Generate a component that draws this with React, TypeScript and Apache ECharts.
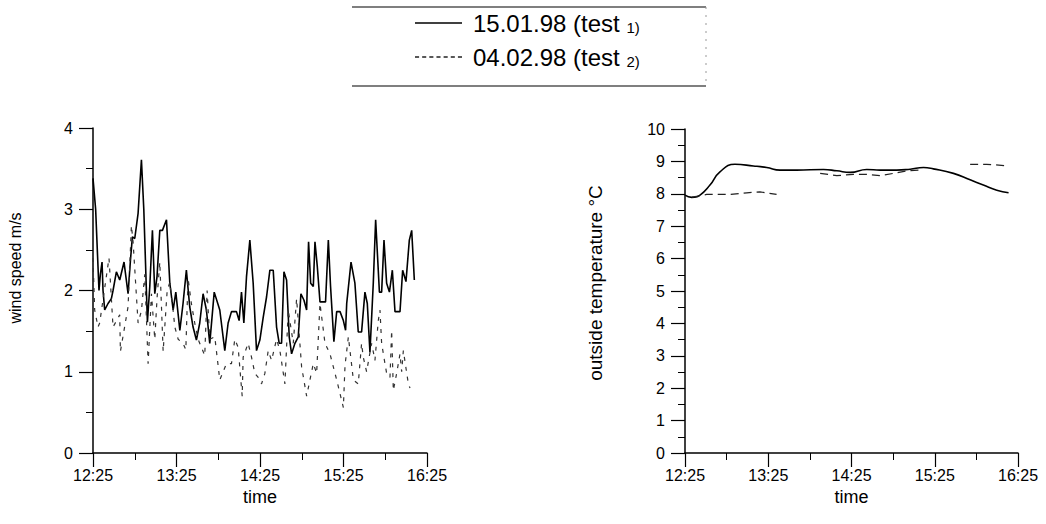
import React, { useEffect, useRef } from "react";
import * as echarts from "echarts";

const timeTicks = ["12:25", "13:25", "14:25", "15:25", "16:25"];
const seriesNames = ["15.01.98 (test 1)", "04.02.98 (test 2)"];
const leftAxisName = "wind speed m/s";
const rightAxisName = "outside temperature °C";

// [minutes after 12:25, value]
const test1Wind: [number, number][] = [
  [0, 3.38], [1.9, 3.0], [4.3, 2.0], [5.3, 2.2], [6.5, 2.35], [7.2, 2.0], [8.4, 1.76], [10.8, 1.84],
  [13.2, 1.9], [14.4, 2.0], [16.8, 2.23], [19.2, 2.13], [22.3, 2.35], [25.2, 1.96], [26.9, 2.37],
  [28.3, 2.66], [30.0, 2.64], [32.4, 2.95], [34.8, 3.61], [36.5, 3.0], [39.1, 1.61], [40.8, 2.05],
  [42.7, 2.74], [44.4, 1.96], [46.0, 2.17], [48.0, 2.74], [49.9, 2.74], [52.8, 2.87], [55.2, 2.09],
  [57.6, 1.76], [59.5, 1.98], [62.4, 1.51], [64.7, 1.84], [67.1, 2.25], [69.5, 1.8], [71.9, 1.55],
  [74.3, 1.39], [76.7, 1.6], [79.1, 1.96], [81.5, 1.76], [83.9, 1.35], [87.1, 1.98], [91.1, 1.76],
  [94.7, 1.26], [97.1, 1.6], [99.5, 1.74], [103.1, 1.74], [105.0, 1.63], [106.7, 1.98], [108.4, 1.6],
  [110.3, 2.17], [112.7, 2.62], [115.1, 2.09], [117.5, 1.26], [119.9, 1.39], [122.3, 1.67],
  [124.7, 1.92], [127.1, 2.25], [129.5, 2.25], [131.9, 1.55], [133.8, 1.35], [135.5, 1.35],
  [137.2, 2.23], [139.1, 2.13], [141.0, 1.43], [142.7, 1.22], [145.1, 1.35], [147.5, 1.43],
  [149.4, 1.96], [151.6, 1.88], [153.5, 1.76], [154.9, 2.6], [156.4, 2.09], [158.3, 2.05],
  [159.5, 2.6], [161.2, 2.29], [163.1, 1.86], [165.5, 1.86], [167.1, 1.86], [169.1, 2.62],
  [170.7, 2.05], [173.1, 1.37], [175.1, 1.74], [177.5, 1.74], [179.9, 1.63], [181.5, 1.51],
  [182.3, 1.84], [185.4, 2.35], [188.2, 2.09], [190.6, 1.49], [193.0, 1.49], [195.4, 1.98],
  [197.1, 1.84], [199.0, 1.24], [201.4, 2.09], [203.1, 2.87], [205.8, 1.98], [207.4, 1.98],
  [209.1, 2.62], [211.0, 2.09], [213.0, 1.98], [215.1, 2.25], [217.0, 1.74], [220.6, 1.74],
  [222.5, 2.25], [224.9, 2.11], [227.3, 2.62], [229.0, 2.74], [230.9, 2.13],
];

const test2Wind: [number, number][] = [
  [0, 2.4], [1.2, 1.76], [3.6, 1.55], [4.8, 1.6], [11.5, 2.4], [14.4, 1.55], [19.2, 1.7], [19.7, 1.25],
  [25.2, 1.8], [27.6, 2.8], [28.8, 2.6], [32.4, 1.6], [34.8, 1.75], [37.2, 2.2], [39.6, 1.1], [42, 1.96],
  [44.4, 1.4], [46, 1.9], [48, 2.35], [50.4, 1.25], [53.3, 2.0], [55.2, 2.1], [57.6, 1.75], [58.8, 1.55],
  [61.2, 1.4], [64.7, 1.35], [66.7, 1.27], [68.3, 2.15], [70.7, 1.84], [73.1, 1.6], [75.5, 1.4],
  [77.9, 1.3], [80.3, 1.2], [82, 2.0], [83.9, 1.4], [87.5, 1.43], [91.1, 0.9], [95.9, 1.1], [99.5, 1.1],
  [101.9, 1.4], [104.3, 1.3], [106.7, 0.8], [107.2, 0.7], [107.9, 1.18], [111.5, 1.35], [113.9, 1.18],
  [116.3, 0.98], [118.7, 0.93], [121.1, 0.85], [123.5, 0.98], [125.9, 1.26], [128.3, 1.14],
  [131.9, 1.4], [134.3, 1.26], [137.9, 0.85], [140.3, 1.76], [143.9, 1.35], [146.3, 1.9],
  [149.9, 1.06], [153.5, 0.7], [158.3, 1.1], [160.7, 0.98], [163.1, 1.84], [166.7, 1.35],
  [170.3, 1.22], [175.1, 0.9], [179.9, 0.56], [181.1, 1.08], [183.5, 1.43], [187.1, 0.9],
  [190.6, 0.85], [193, 1.35], [194.2, 1.18], [196.6, 1.0], [200.2, 1.35], [202.6, 1.14], [205, 1.63],
  [206.2, 1.76], [207.4, 1.35], [209.8, 1.1], [211, 0.98], [213.4, 0.93], [214.6, 1.51], [215.8, 0.77],
  [218.2, 0.98], [220.6, 1.22], [221.8, 1.0], [223, 1.26], [226.6, 0.85], [227.8, 0.8],
];

const test1Temp: [number, number][] = [
  [0, 7.96], [4.8, 7.89], [10.8, 7.96], [18, 8.27], [25.2, 8.68], [36, 8.91], [49.3, 8.86],
  [58.9, 8.81], [68.5, 8.73], [80.5, 8.73], [99.8, 8.75], [109.4, 8.71], [119, 8.66], [131, 8.75],
  [140.6, 8.73], [152.6, 8.73], [162.3, 8.76], [171.9, 8.81], [179, 8.77], [193.5, 8.63],
  [205.5, 8.43], [215, 8.27], [224.7, 8.11], [233.2, 8.03],
];

const test2TempA: [number, number][] = [
  [5, 7.9], [12, 7.95], [15.6, 7.98], [32.5, 7.98], [44.5, 8.03], [54, 8.06], [66, 7.98],
];
const test2TempB: [number, number][] = [
  [97.4, 8.63], [109.4, 8.56], [121.4, 8.6], [131, 8.6], [140.6, 8.56], [150.2, 8.63], [160, 8.71], [168.3, 8.73],
];
const test2TempC: [number, number][] = [
  [205.5, 8.91], [217.5, 8.91], [230.8, 8.87],
];

const FONT = "Liberation Sans, Arial, sans-serif";

const solidIcon = "path://M0,0H47V1.6H0Z";
const dashedIcon =
  "path://M0,0H4V1.4H0Z M7,0H11V1.4H7Z M14,0H18V1.4H14Z M21,0H25V1.4H21Z M28,0H32V1.4H28Z M35,0H39V1.4H35Z M42,0H46V1.4H42Z";

function xAxisFor(gridIndex: number) {
  return {
    type: "value",
    gridIndex,
    min: 0,
    max: 240,
    interval: 60,
    name: "time",
    nameLocation: "middle",
    nameGap: 33,
    nameTextStyle: { color: "#000", fontSize: 18, fontFamily: FONT },
    axisLine: { lineStyle: { color: "#000", width: 1.5 } },
    axisTick: { length: 14, lineStyle: { color: "#000", width: 1.2 } },
    minorTick: { show: true, splitNumber: 2, length: 7, lineStyle: { color: "#000", width: 1 } },
    splitLine: { show: false },
    axisLabel: {
      color: "#000",
      fontSize: 16,
      fontFamily: FONT,
      margin: 14,
      formatter: (v: number) => timeTicks[Math.round(v / 60)] ?? "",
    },
  };
}

function yAxisFor(gridIndex: number, max: number) {
  return {
    type: "value",
    gridIndex,
    min: 0,
    max,
    interval: 1,
    axisLine: { show: true, lineStyle: { color: "#000", width: 1.5 } },
    axisTick: { show: true, length: 14, lineStyle: { color: "#000", width: 1.2 } },
    minorTick: { show: true, splitNumber: 2, length: 7, lineStyle: { color: "#000", width: 1 } },
    splitLine: { show: false },
    axisLabel: { color: "#000", fontSize: 16, fontFamily: FONT, margin: 20 },
  };
}

export default function App() {
  const ref = useRef<HTMLDivElement>(null);
  useEffect(() => {
    if (!ref.current) return;
    const chart = echarts.init(ref.current, null, { renderer: "svg" });
    const solid = { color: "#000", width: 1.6, type: "solid" as const };
    const dashedWind = { color: "#333", width: 1.2, type: [4, 6] };
    const dashedTemp = { color: "#222", width: 1.2, type: [8, 5] };
    chart.setOption({
      animation: false,
      backgroundColor: "#fff",
      textStyle: { fontFamily: FONT },
      legend: {
        orient: "vertical",
        left: 410,
        top: 6,
        itemWidth: 47,
        itemHeight: 2,
        itemGap: 10,
        data: [
          { name: seriesNames[0], icon: solidIcon },
          { name: seriesNames[1], icon: dashedIcon },
        ],
        formatter: (name: string) => {
          const m = name.match(/^(.*\(test )(\d\))$/);
          return m ? `{a|${m[1]}}{b|${m[2]}}` : name;
        },
        textStyle: {
          color: "#000",
          fontSize: 24,
          fontFamily: FONT,
          rich: {
            a: { fontSize: 24, fontFamily: FONT, color: "#000", padding: [0, 0, 0, 6] },
            b: { fontSize: 15, fontFamily: FONT, color: "#000", verticalAlign: "bottom", padding: [8, 0, 0, 0] },
          },
        },
      },
      graphic: [
        { type: "line", shape: { x1: 352, y1: 7, x2: 706, y2: 7 }, style: { stroke: "#000", lineWidth: 1.2 } },
        { type: "line", shape: { x1: 352, y1: 86, x2: 706, y2: 86 }, style: { stroke: "#000", lineWidth: 1.2 } },
        { type: "line", shape: { x1: 706, y1: 7, x2: 706, y2: 86 }, style: { stroke: "#999", lineWidth: 1, lineDash: [2, 6] } },
        {
          type: "text",
          x: 15,
          y: 268,
          rotation: Math.PI / 2,
          style: { text: leftAxisName, fill: "#000", font: `16px ${FONT}`, align: "center", verticalAlign: "middle" },
        },
        {
          type: "text",
          x: 595,
          y: 283,
          rotation: Math.PI / 2,
          style: { text: rightAxisName, fill: "#000", font: `19px ${FONT}`, align: "center", verticalAlign: "middle" },
        },
      ],
      grid: [
        { left: 93, top: 128, width: 334, height: 325 },
        { left: 685, top: 129, width: 333, height: 324 },
      ],
      xAxis: [xAxisFor(0), xAxisFor(1)],
      yAxis: [yAxisFor(0, 4), yAxisFor(1, 10)],
      series: [
        { name: seriesNames[0], type: "line", xAxisIndex: 0, yAxisIndex: 0, data: test1Wind, symbol: "none", lineStyle: solid, itemStyle: { color: "#000" } },
        { name: seriesNames[1], type: "line", xAxisIndex: 0, yAxisIndex: 0, data: test2Wind, symbol: "none", lineStyle: dashedWind, itemStyle: { color: "#222" } },
        { name: seriesNames[0], type: "line", xAxisIndex: 1, yAxisIndex: 1, data: test1Temp, symbol: "none", smooth: true, lineStyle: solid, itemStyle: { color: "#000" } },
        { name: seriesNames[1], type: "line", xAxisIndex: 1, yAxisIndex: 1, data: test2TempA, symbol: "none", lineStyle: dashedTemp, itemStyle: { color: "#222" } },
        { name: seriesNames[1], type: "line", xAxisIndex: 1, yAxisIndex: 1, data: test2TempB, symbol: "none", lineStyle: dashedTemp, itemStyle: { color: "#222" } },
        { name: seriesNames[1], type: "line", xAxisIndex: 1, yAxisIndex: 1, data: test2TempC, symbol: "none", lineStyle: dashedTemp, itemStyle: { color: "#222" } },
      ],
    });
    return () => chart.dispose();
  }, []);
  return (
    <div
      ref={ref}
      style={{ position: "fixed", left: 0, top: 0, width: 1046, height: 524, background: "#fff" }}
    />
  );
}
